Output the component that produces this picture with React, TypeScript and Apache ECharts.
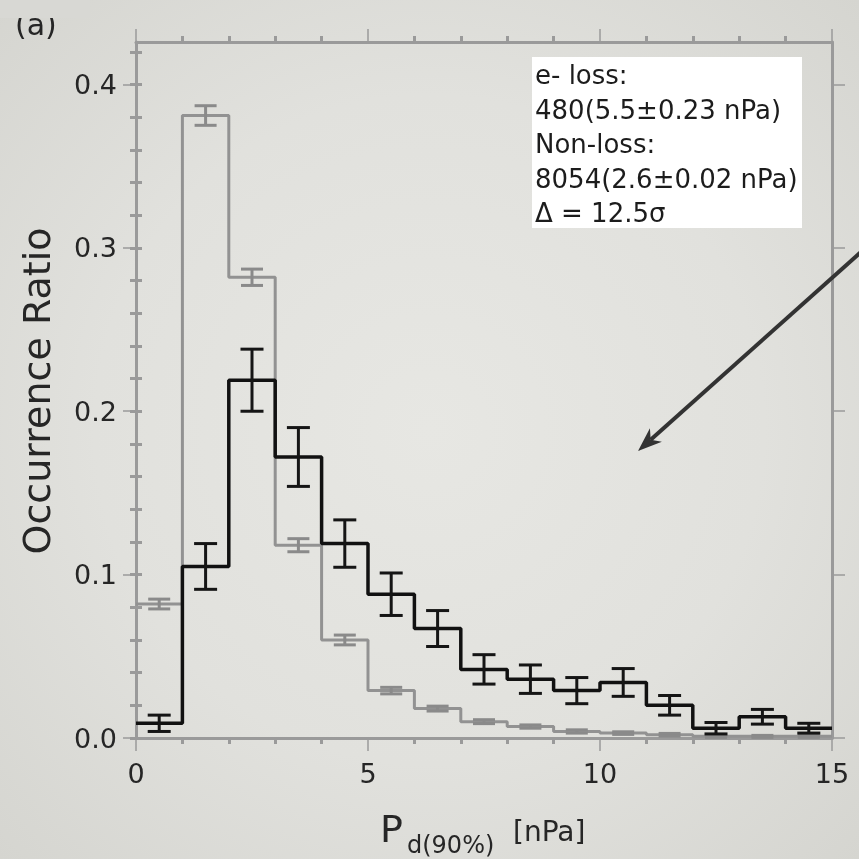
import React, { useEffect, useRef } from "react";
import * as echarts from "echarts";

// ---- data ----
const binEdges = [0, 1, 2, 3, 4, 5, 6, 7, 8, 9, 10, 11, 12, 13, 14, 15];
const nonLossValues = [0.082, 0.381, 0.282, 0.118, 0.06, 0.029, 0.018, 0.01, 0.007, 0.004, 0.003, 0.002, 0.001, 0.001, 0.001];
const nonLossErrors = [0.003, 0.006, 0.005, 0.004, 0.003, 0.002, 0.0015, 0.0012, 0.001, 0.001, 0.0008, 0.0008, 0.0006, 0.0006, 0.0006];
const lossValues = [0.009, 0.105, 0.219, 0.172, 0.119, 0.088, 0.067, 0.042, 0.036, 0.029, 0.034, 0.02, 0.006, 0.013, 0.006];
const lossErrors = [0.005, 0.014, 0.019, 0.018, 0.0145, 0.013, 0.011, 0.009, 0.0087, 0.008, 0.0085, 0.006, 0.0035, 0.0045, 0.003];

const xTickValues = [0, 5, 10, 15];
const yMajorTicks = [0, 0.1, 0.2, 0.3, 0.4];
const yMinorTicks = [0, 0.02, 0.04, 0.06, 0.08, 0.1, 0.12, 0.14, 0.16, 0.18, 0.2, 0.22, 0.24, 0.26, 0.28, 0.3, 0.32, 0.34, 0.36, 0.38, 0.4, 0.42];
const legendLines = ["e- loss:", "480(5.5\u00b10.23 nPa)", "Non-loss:", "8054(2.6\u00b10.02 nPa)", "\u0394 = 12.5\u03c3"];

const FONT = "DejaVu Sans";
const AXIS_COLOR = "#9a9a9a";
const TEXT_COLOR = "#262626";
const Y_MAX = 0.426;

function stepData(values: number[]) {
  return binEdges.map((x, i) => [x, values[Math.min(i, values.length - 1)]]);
}
function errData(values: number[], errs: number[]) {
  return values.map((v, i) => [(binEdges[i] + binEdges[i + 1]) / 2, v, errs[i]]);
}
function errRender(color: string, hw: number, lw: number) {
  return (params: any, api: any) => {
    const x = api.value(0);
    const y = api.value(1);
    const e = api.value(2);
    const top = api.coord([x, y + e]);
    const bot = api.coord([x, y - e]);
    const style = { stroke: color, lineWidth: lw };
    return {
      type: "group",
      children: [
        { type: "line", shape: { x1: top[0], y1: top[1], x2: bot[0], y2: bot[1] }, style },
        { type: "line", shape: { x1: top[0] - hw, y1: top[1], x2: top[0] + hw, y2: top[1] }, style },
        { type: "line", shape: { x1: bot[0] - hw, y1: bot[1], x2: bot[0] + hw, y2: bot[1] }, style },
      ],
    };
  };
}

export default function App() {
  const ref = useRef<HTMLDivElement>(null);
  useEffect(() => {
    if (!ref.current) return;
    const chart = echarts.init(ref.current, undefined, { renderer: "svg" });
    const axisLine = { show: true, onZero: false, lineStyle: { color: AXIS_COLOR, width: 3 } };
    const majorTick = { show: true, inside: false, length: 13, lineStyle: { color: AXIS_COLOR, width: 1.5 } };
    const minorTick = { show: true, splitNumber: 5, length: 6, lineStyle: { color: AXIS_COLOR, width: 3 } };

    // arrow geometry
    const tip = [638, 451];
    const start = [861, 252];
    const dx = start[0] - tip[0];
    const dy = start[1] - tip[1];
    const L = Math.sqrt(dx * dx + dy * dy);
    const ux = dx / L, uy = dy / L;
    const px = -uy, py = ux;
    const base = [tip[0] + ux * 24, tip[1] + uy * 24];
    const notch = [tip[0] + ux * 17, tip[1] + uy * 17];

    const legendGraphics: any[] = legendLines.map((t, i) => ({
      type: "text",
      x: 535,
      y: 75 + 34.5 * i,
      style: { text: t, font: `26px '${FONT}'`, fill: "#1c1c1c", align: "left", verticalAlign: "middle" },
      z: 11,
    }));

    chart.setOption({
      animation: false,
      backgroundColor: "transparent",
      grid: { left: 136, right: 27, top: 42, bottom: 121, containLabel: false },
      xAxis: [
        {
          type: "value", min: 0, max: 15, interval: 5, position: "bottom",
          axisLine, axisTick: majorTick, minorTick,
          axisLabel: { show: true, fontSize: 27, fontFamily: FONT, color: TEXT_COLOR, margin: 22, formatter: (v: number) => (xTickValues.includes(v) ? String(v) : "") },
          splitLine: { show: false }, minorSplitLine: { show: false },
        },
        {
          type: "value", min: 0, max: 15, interval: 5, position: "top",
          axisLine, axisTick: majorTick, minorTick,
          axisLabel: { show: false }, splitLine: { show: false },
        },
      ],
      yAxis: [
        {
          type: "value", min: 0, max: Y_MAX, position: "left",
          axisLine,
          axisTick: { ...majorTick, customValues: yMajorTicks },
          axisLabel: { show: true, customValues: yMajorTicks, fontSize: 27, fontFamily: FONT, color: TEXT_COLOR, margin: 19, formatter: (v: number) => v.toFixed(1) },
          splitLine: { show: false },
        },
        {
          type: "value", min: 0, max: Y_MAX, position: "left",
          axisLine: { show: false },
          axisTick: { show: true, inside: false, length: 6, lineStyle: { color: AXIS_COLOR, width: 3 }, customValues: yMinorTicks },
          axisLabel: { show: false }, splitLine: { show: false },
        },
        {
          type: "value", min: 0, max: Y_MAX, position: "right",
          axisLine,
          axisTick: { ...majorTick, customValues: yMajorTicks },
          axisLabel: { show: false }, splitLine: { show: false },
        },
        {
          type: "value", min: 0, max: Y_MAX, position: "right",
          axisLine: { show: false },
          axisTick: { show: true, inside: false, length: 6, lineStyle: { color: AXIS_COLOR, width: 3 }, customValues: yMinorTicks },
          axisLabel: { show: false }, splitLine: { show: false },
        },
      ],
      series: [
        {
          name: "Non-loss", type: "line", step: "end", xAxisIndex: 0, yAxisIndex: 0,
          data: stepData(nonLossValues), symbol: "none", z: 2,
          lineStyle: { color: "#929292", width: 3 },
        },
        {
          name: "Non-loss err", type: "custom", xAxisIndex: 0, yAxisIndex: 0, z: 3,
          renderItem: errRender("#8a8a8a", 11, 3), data: errData(nonLossValues, nonLossErrors), encode: { x: 0, y: 1 },
        },
        {
          name: "e-loss", type: "line", step: "end", xAxisIndex: 0, yAxisIndex: 0,
          data: stepData(lossValues), symbol: "none", z: 4,
          lineStyle: { color: "#111111", width: 3.5 },
        },
        {
          name: "e-loss err", type: "custom", xAxisIndex: 0, yAxisIndex: 0, z: 5,
          renderItem: errRender("#151515", 11.5, 3), data: errData(lossValues, lossErrors), encode: { x: 0, y: 1 },
        },
      ],
      graphic: [
        { type: "rect", shape: { x: 532, y: 57, width: 270, height: 171 }, style: { fill: "#ffffff" }, z: 10 },
        ...legendGraphics,
        {
          type: "text", x: 15, y: 24, z: 1,
          style: { text: "(a)", font: `30px '${FONT}'`, fill: TEXT_COLOR, align: "left", verticalAlign: "middle" },
        },
        { type: "rect", shape: { x: 0, y: 0, width: 90, height: 18 }, style: { fill: "#d8d8d4" }, z: 50 },
        {
          type: "text", x: 37, y: 391, rotation: Math.PI / 2,
          style: { text: "Occurrence Ratio", font: `38px '${FONT}'`, fill: TEXT_COLOR, align: "center", verticalAlign: "middle" },
        },
        {
          type: "text", x: 380, y: 829,
          style: { text: "P", font: `38px '${FONT}'`, fill: TEXT_COLOR, align: "left", verticalAlign: "middle" },
        },
        {
          type: "text", x: 407, y: 845,
          style: { text: "d(90%)", font: `24px '${FONT}'`, fill: TEXT_COLOR, align: "left", verticalAlign: "middle" },
        },
        {
          type: "text", x: 513, y: 831,
          style: { text: "[nPa]", font: `28px '${FONT}'`, fill: TEXT_COLOR, align: "left", verticalAlign: "middle" },
        },
        {
          type: "line", shape: { x1: start[0], y1: start[1], x2: notch[0], y2: notch[1] },
          style: { stroke: "#333", lineWidth: 4 }, z: 12,
        },
        {
          type: "polygon",
          shape: {
            points: [
              tip,
              [base[0] + px * 9, base[1] + py * 9],
              notch,
              [base[0] - px * 9, base[1] - py * 9],
            ],
          },
          style: { fill: "#333" }, z: 12,
        },
      ],
    });
    return () => chart.dispose();
  }, []);
  return (
    <div
      ref={ref}
      style={{
        position: "fixed", left: 0, top: 0, width: 859, height: 859,
        background: "radial-gradient(ellipse at 50% 50%, #e7e7e3 0%, #e1e1dd 55%, #d5d5d0 100%)",
      }}
    />
  );
}
